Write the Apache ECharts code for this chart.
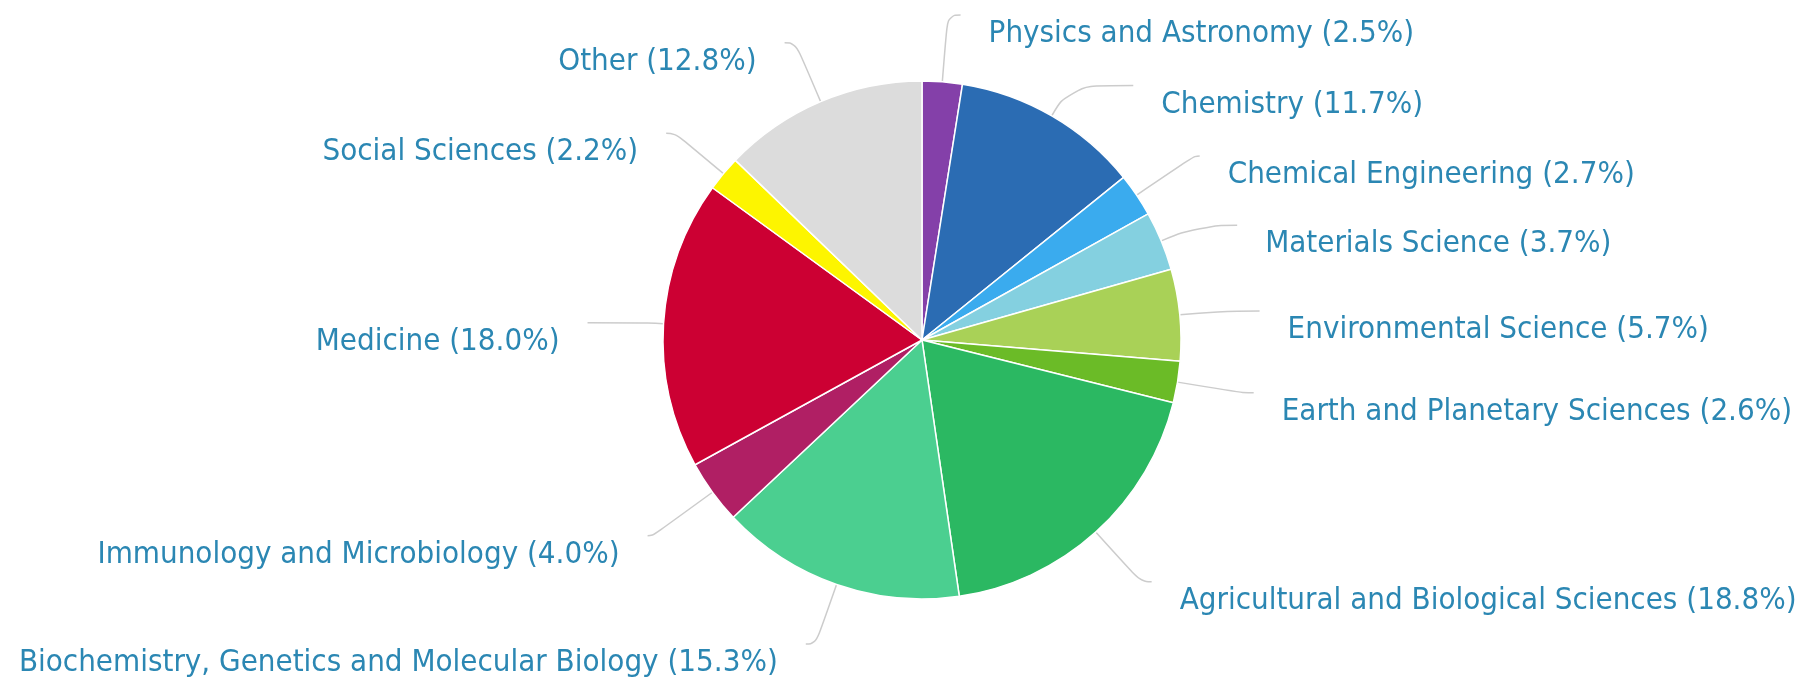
<!DOCTYPE html>
<html>
<head>
<meta charset="utf-8">
<script src="https://cdn.jsdelivr.net/npm/echarts@6/dist/echarts.min.js"></script>
<style>
html,body{margin:0;padding:0;background:#fff;}
#chart{width:1799px;height:680px;}
</style>
</head>
<body>
<div id="chart"></div>
<script>
const categories = [
  "Physics and Astronomy",
  "Chemistry",
  "Chemical Engineering",
  "Materials Science",
  "Environmental Science",
  "Earth and Planetary Sciences",
  "Agricultural and Biological Sciences",
  "Biochemistry, Genetics and Molecular Biology",
  "Immunology and Microbiology",
  "Medicine",
  "Social Sciences",
  "Other"
];
const shares = [2.5, 11.7, 2.7, 3.7, 5.7, 2.6, 18.8, 15.3, 4.0, 18.0, 2.2, 12.8];
const colors = ["#8440a9", "#2b6cb3", "#3aabee", "#84d0e0", "#a9d157", "#6bbb27",
                "#2bb862", "#4bcf90", "#b01f64", "#cc0033", "#fdf500", "#dcdcdc"];
// connector styling (radial length, horizontal length) per slice
const lineLen1 = [67, 35, 70, 41, 38, 66, 67, 63, 74, 16, 63, 64];
const lineLen2 = [13, 64, 5, 38, 42, 11, 11, 10, 5, 60, 9, 11];

const chart = echarts.init(document.getElementById('chart'), null, {renderer: 'canvas'});
chart.setOption({
  animation: false,
  backgroundColor: '#ffffff',
  series: [{
    type: 'pie',
    center: [922, 340],
    radius: [0, 259],
    startAngle: 90,
    clockwise: true,
    avoidLabelOverlap: false,
    data: categories.map((c, i) => ({
      name: c,
      value: shares[i],
      itemStyle: {color: colors[i]},
      labelLine: {length: lineLen1[i], length2: lineLen2[i]}
    })),
    itemStyle: {borderColor: '#ffffff', borderWidth: 1.5},
    label: {
      show: true,
      position: 'outside',
      formatter: p => p.name + ' (' + p.value.toFixed(1) + '%)',
      color: '#2b87b3',
      fontSize: 31,
      lineHeight: 32,
      overflow: 'none',
      fontFamily: "'Liberation Sans Narrow', 'DejaVu Sans Condensed', sans-serif",
      distanceToLabelLine: 28
    },
    labelLayout: {dy: 19},
    labelLine: {
      show: true,
      smooth: 0.5,
      lineStyle: {color: '#cccccc', width: 1.5}
    },
    emphasis: {disabled: true}
  }]
});
</script>
</body>
</html>
